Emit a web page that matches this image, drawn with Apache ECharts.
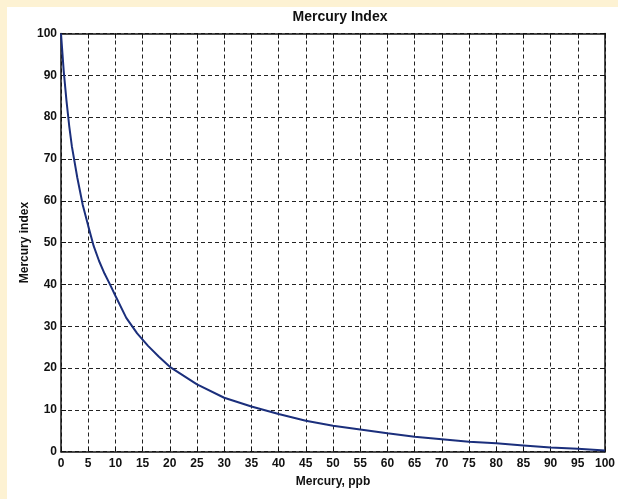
<!DOCTYPE html>
<html>
<head>
<meta charset="utf-8">
<script src="https://cdn.jsdelivr.net/npm/echarts@6/dist/echarts.min.js"></script>
<style>
  html, body { margin: 0; padding: 0; background: #fdf2d3; }
  #chart { width: 618px; height: 499px; }
</style>
</head>
<body>
<div id="chart"></div>
<script>
// Mercury concentration (ppb) and the corresponding index value
const mercuryPpb = [0, 0.5, 1, 1.5, 2, 3, 4, 5, 6, 7, 8, 9, 10, 12, 14, 16, 18, 20, 25, 30, 35, 40, 45, 50, 55, 60, 65, 70, 75, 80, 85, 90, 95, 100];
const mercuryIndex = [100, 91, 84, 78, 73, 65.5, 59, 54, 49.2, 45.6, 42.6, 40, 37.3, 32, 28.3, 25.3, 22.7, 20.3, 16.1, 12.9, 10.8, 9.0, 7.4, 6.2, 5.3, 4.4, 3.6, 3.0, 2.4, 2.0, 1.5, 1.0, 0.7, 0.3];

const xTicks = [0, 100, 5];   // min, max, step
const yTicks = [0, 100, 10];

const font = 'Liberation Sans, Arial, sans-serif';
const gridLine = { show: true, lineStyle: { color: '#222', type: [4, 3], width: 1 } };
const frame = { show: true, onZero: false, lineStyle: { color: '#111', width: 1.5 } };
const tickIn = { show: true, inside: true, length: 5, lineStyle: { color: '#111', width: 1 } };
const tickLabel = { color: '#111', fontFamily: font, fontWeight: 'bold', fontSize: 12 };

const chart = echarts.init(document.getElementById('chart'), null, { renderer: 'canvas' });
chart.setOption({
  backgroundColor: '#fdf2d3',
  animation: false,
  graphic: [{
    type: 'rect', z: -10, silent: true,
    shape: { x: 7, y: 7, width: 611, height: 492 },
    style: { fill: '#ffffff' }
  }],
  title: {
    text: 'Mercury Index',
    left: 335, top: 5, textAlign: 'center',
    textStyle: { fontFamily: font, fontWeight: 'bold', fontSize: 14, color: '#111' }
  },
  grid: { left: 61, right: 9.5, top: 33.5, bottom: 47.3, containLabel: false },
  xAxis: [{
    type: 'value', min: xTicks[0], max: xTicks[1], interval: xTicks[2],
    name: 'Mercury, ppb', nameLocation: 'middle', nameGap: 24,
    nameTextStyle: { fontFamily: font, fontWeight: 'bold', fontSize: 12, color: '#111' },
    axisLine: frame, axisTick: tickIn, splitLine: gridLine,
    axisLabel: Object.assign({ margin: 6 }, tickLabel)
  }, {
    type: 'value', position: 'top', min: xTicks[0], max: xTicks[1], interval: xTicks[2],
    axisLine: frame, axisTick: tickIn, splitLine: { show: false }, axisLabel: { show: false }
  }],
  yAxis: [{
    type: 'value', min: yTicks[0], max: yTicks[1], interval: yTicks[2],
    name: 'Mercury index', nameLocation: 'middle', nameGap: 30, nameRotate: 90,
    nameMoveOverlap: false,
    nameTextStyle: { fontFamily: font, fontWeight: 'bold', fontSize: 12, color: '#111' },
    axisLine: frame, axisTick: tickIn, splitLine: gridLine,
    axisLabel: Object.assign({ margin: 4 }, tickLabel)
  }, {
    type: 'value', position: 'right', min: yTicks[0], max: yTicks[1], interval: yTicks[2],
    axisLine: frame, axisTick: tickIn, splitLine: { show: false }, axisLabel: { show: false }
  }],
  series: [{
    type: 'line',
    data: mercuryPpb.map((x, i) => [x, mercuryIndex[i]]),
    showSymbol: false,
    smooth: false,
    lineStyle: { color: '#1b2f7c', width: 2 },
    z: 5
  }]
});
</script>
</body>
</html>
